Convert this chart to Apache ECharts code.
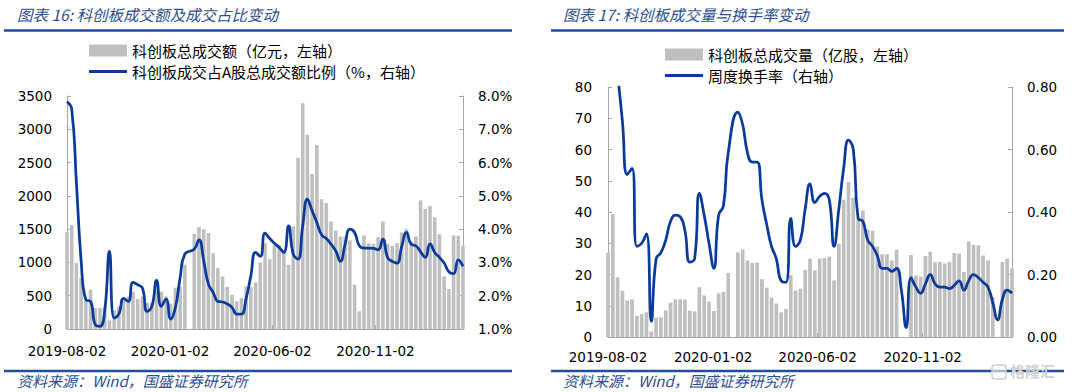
<!DOCTYPE html>
<html><head><meta charset="utf-8">
<script src="https://cdn.jsdelivr.net/npm/echarts@6/dist/echarts.min.js"></script>
<style>html,body{margin:0;padding:0;background:#fff;}#c{width:1080px;height:392px;}</style>
</head><body><div id="c"></div><script>
// weekly dates (Fridays)
const weekDates = [
'2019-08-02','2019-08-09','2019-08-16','2019-08-23','2019-08-30','2019-09-06','2019-09-13','2019-09-20','2019-09-27','2019-10-04',
'2019-10-11','2019-10-18','2019-10-25','2019-11-01','2019-11-08','2019-11-15','2019-11-22','2019-11-29','2019-12-06','2019-12-13',
'2019-12-20','2019-12-27','2020-01-03','2020-01-10','2020-01-17','2020-01-24','2020-01-31','2020-02-07','2020-02-14','2020-02-21',
'2020-02-28','2020-03-06','2020-03-13','2020-03-20','2020-03-27','2020-04-03','2020-04-10','2020-04-17','2020-04-24','2020-05-01',
'2020-05-08','2020-05-15','2020-05-22','2020-05-29','2020-06-05','2020-06-12','2020-06-19','2020-06-26','2020-07-03','2020-07-10',
'2020-07-17','2020-07-24','2020-07-31','2020-08-07','2020-08-14','2020-08-21','2020-08-28','2020-09-04','2020-09-11','2020-09-18',
'2020-09-25','2020-10-02','2020-10-09','2020-10-16','2020-10-23','2020-10-30','2020-11-06','2020-11-13','2020-11-20','2020-11-27',
'2020-12-04','2020-12-11','2020-12-18','2020-12-25','2021-01-01','2021-01-08','2021-01-15','2021-01-22','2021-01-29','2021-02-05',
'2021-02-12','2021-02-19','2021-02-26','2021-03-05','2021-03-12'];
// 科创板总成交额（亿元）
const starAmount = [
1450,1560,990,765,420,590,315,315,330,130,
280,340,440,490,565,450,490,390,390,590,
560,490,380,620,640,965,null,1430,1530,1500,
1440,1140,915,790,630,515,415,465,640,630,
700,1000,1290,1050,1290,1265,1165,965,1540,2575,
3390,2915,2330,2765,1950,1890,1615,1480,1390,1390,
1330,665,265,1405,1290,1280,1380,1615,1280,1250,
1290,1450,1500,1315,1390,1930,1805,1850,1680,1425,
790,600,1405,1400,1250];
// 科创板成交占A股总成交额比例（%）
const starShare = [
7.83,7.60,5.38,3.05,1.88,1.83,1.13,1.08,1.55,3.33,
1.33,1.45,1.92,1.83,2.40,2.33,2.23,1.53,1.68,2.46,
1.68,1.90,1.30,1.65,2.55,3.25,null,3.40,3.68,3.05,
2.35,2.10,1.83,1.81,1.75,1.65,1.45,1.45,1.92,2.60,
3.30,3.18,3.88,3.72,3.58,3.45,3.30,4.10,3.25,3.10,
4.10,4.90,4.55,4.20,3.83,3.72,3.55,3.35,3.03,3.55,
4.00,3.90,3.50,3.43,3.43,3.42,3.38,3.70,3.15,3.03,
2.98,3.48,3.90,3.55,3.50,3.32,3.15,3.56,3.30,3.15,
2.98,2.72,2.66,3.08,2.88];
// 科创板总成交量（亿股）
const starVolume = [
27.0,39.3,19.1,14.8,11.7,12.0,6.8,7.4,7.9,1.8,
6.2,6.3,8.5,11.0,12.1,12.1,12.0,8.5,8.2,15.9,
13.3,11.3,8.3,14.0,14.4,20.5,null,27.1,28.0,24.5,
23.7,23.8,18.5,15.8,12.6,10.7,7.9,9.0,19.8,14.9,
15.5,21.5,25.1,21.3,25.1,25.3,25.7,18.1,29.8,43.9,
49.6,44.6,37.5,40.5,34.4,34.0,29.0,26.5,26.5,24.5,
28.0,null,null,26.2,19.7,19.4,25.9,27.3,23.9,24.0,
23.5,24.0,26.9,26.7,20.8,30.6,29.5,29.3,26.1,24.5,
12.8,null,24.0,25.1,21.9];
// 周度换手率
const turnover = [
1.14,0.98,0.84,0.69,0.52,0.54,0.29,0.30,0.33,0.05,
0.25,0.27,0.31,0.37,0.39,0.385,0.34,0.24,0.25,0.46,
0.39,0.30,0.22,0.39,0.42,0.59,null,0.72,0.68,0.59,
0.56,0.56,0.44,0.36,0.29,0.25,0.18,0.175,0.38,0.29,
0.31,0.41,0.49,0.43,0.45,0.46,0.44,0.29,0.41,0.54,
0.63,0.60,0.38,0.37,0.31,0.29,0.26,0.22,0.22,0.21,
0.22,0.15,0.03,0.19,0.16,0.14,0.17,0.20,0.17,0.16,
0.16,0.155,0.165,0.18,0.15,0.18,0.20,0.19,0.175,0.16,
0.11,0.055,0.12,0.15,0.14];
const tickDates = ['2019-08-02','2020-01-02','2020-06-02','2020-11-02'];

const names = {
  amt: '科创板总成交额（亿元，左轴）',
  share: '科创板成交占A股总成交额比例（%，右轴）',
  vol: '科创板总成交量（亿股，左轴）',
  turn: '周度换手率（右轴）'
};
function ts(s){const p=s.split('-').map(Number);return Date.UTC(p[0],p[1]-1,p[2]);}
function fmt(v){const d=new Date(v);const z=n=>(n<10?'0':'')+n;return d.getUTCFullYear()+'-'+z(d.getUTCMonth()+1)+'-'+z(d.getUTCDate());}
const pair = arr => weekDates.map((d,i)=>[ts(d), arr[i]]);
const tickTs = tickDates.map(ts);

const NUM = 'DejaVu Sans, Verdana, sans-serif';
const CJK = '"Noto Sans CJK SC", sans-serif';
const AX = '#a6a6a6';
const BAR = '#bfbfbf';
const LINE = '#0a3a9a';
const TITLE = '#2f4f8f';
const RULE = '#1f4e9e';

function xAxis(g, margin){
  return {type:'value', gridIndex:g, min:ts(weekDates[0]), max:ts(weekDates[weekDates.length-1]),
    axisLine:{show:true, onZero:false, lineStyle:{color:AX, width:1}},
    axisTick:{show:true, inside:true, length:4, customValues:tickTs, lineStyle:{color:AX}},
    axisLabel:{customValues:tickTs, formatter:fmt, margin:margin, fontSize:13.5, color:'#000', fontFamily:NUM},
    splitLine:{show:false}};
}
function yAxis(g, pos, min, max, interval, formatter, margin){
  return {type:'value', gridIndex:g, position:pos, min:min, max:max, interval:interval,
    axisLine:{show:true, lineStyle:{color:AX, width:1}},
    axisTick:{show:true, inside:true, length:4, lineStyle:{color:AX}},
    axisLabel:{formatter:formatter, margin:margin, fontSize:13.5, color:'#000', fontFamily:NUM},
    splitLine:{show:false}};
}
const legendText = {fontSize:15, color:'#000', fontFamily:CJK};
function legend(name, x, y, isLine){
  return {left:x, top:y, padding:0, orient:'horizontal', itemWidth:38, itemHeight:isLine?3:12, itemGap:4,
    textStyle:legendText, data:[{name:name, icon:'rect'}]};
}

const option = {
  animation:false,
  backgroundColor:'#fff',
  grid:[
    {left:67, top:96, width:396, height:233},
    {left:608, top:87, width:404, height:250}
  ],
  legend:[
    legend(names.amt, 89, 43, false),
    legend(names.share, 89, 64, true),
    legend(names.vol, 665, 47, false),
    legend(names.turn, 665, 68, true)
  ],
  xAxis:[xAxis(0,15), xAxis(1,13)],
  yAxis:[
    yAxis(0,'left',0,3500,500,v=>String(v),15),
    yAxis(0,'right',1,8,1,v=>v.toFixed(1)+'%',15),
    yAxis(1,'left',0,80,10,v=>String(v),16),
    yAxis(1,'right',0,0.8,0.2,v=>v.toFixed(2),15)
  ],
  series:[
    {name:names.amt, type:'bar', xAxisIndex:0, yAxisIndex:0, data:pair(starAmount), barWidth:3.6, itemStyle:{color:BAR}},
    {name:names.share, type:'line', xAxisIndex:0, yAxisIndex:1, data:pair(starShare), smooth:0.5, connectNulls:true,
     symbol:'none', lineStyle:{color:LINE, width:2.75}, itemStyle:{color:LINE}},
    {name:names.vol, type:'bar', xAxisIndex:1, yAxisIndex:2, data:pair(starVolume), barWidth:3.7, itemStyle:{color:BAR}},
    {name:names.turn, type:'line', xAxisIndex:1, yAxisIndex:3, data:pair(turnover), smooth:0.5, connectNulls:true, clip:true,
     symbol:'none', lineStyle:{color:LINE, width:2.75}, itemStyle:{color:LINE}}
  ],
  graphic:[
    {type:'text', left:17, top:6, style:{text:'图表 16: 科创板成交额及成交占比变动', fill:TITLE, font:'italic 15.5px '+CJK}},
    {type:'text', left:563, top:6, style:{text:'图表 17: 科创板成交量与换手率变动', fill:TITLE, font:'italic 15.5px '+CJK}},
    {type:'line', shape:{x1:4, y1:30.5, x2:512, y2:30.5}, style:{stroke:RULE, lineWidth:2.6}},
    {type:'line', shape:{x1:551, y1:30.5, x2:1064, y2:30.5}, style:{stroke:RULE, lineWidth:2.6}},
    {type:'line', shape:{x1:4, y1:371, x2:512, y2:371}, style:{stroke:RULE, lineWidth:2.6}},
    {type:'line', shape:{x1:551, y1:371, x2:1064, y2:371}, style:{stroke:RULE, lineWidth:2.6}},
    {type:'text', left:17, top:373, style:{text:'资料来源：Wind，国盛证券研究所', fill:TITLE, font:'italic 15px '+CJK}},
    {type:'text', left:563, top:373, style:{text:'资料来源：Wind，国盛证券研究所', fill:TITLE, font:'italic 15px '+CJK}},
    {type:'rect', shape:{x:992, y:365, width:14, height:14, r:3}, style:{fill:'rgba(255,255,255,0.6)', stroke:'#cfcfcf', lineWidth:1.5}},
    {type:'text', left:1010, top:363, style:{text:'格隆汇', fill:'#d2d2d2', font:'bold 15px '+CJK}}
  ]
};
const chart = echarts.init(document.getElementById('c'), null, {renderer:'svg'});
chart.setOption(option);
</script></body></html>
